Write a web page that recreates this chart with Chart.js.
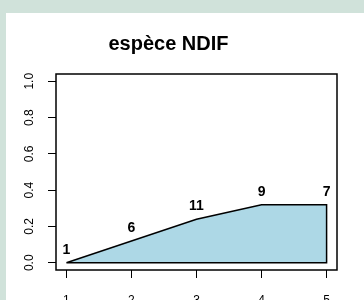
<!DOCTYPE html>
<html>
<head>
<meta charset="utf-8">
<script src="https://cdn.jsdelivr.net/npm/chart.js@4/dist/chart.umd.min.js"></script>
<style>
  html, body { margin: 0; padding: 0; background: #d0e2da; }
  #wrap { position: absolute; left: 0; top: 0; width: 364px; height: 300px; }
</style>
</head>
<body>
<div id="wrap"><canvas id="c" width="364" height="300"></canvas></div>
<script>
// ---- data ----
const titleText = "espèce NDIF";
const classes = [1, 2, 3, 4, 5];
const proportions = [0.0, 0.12, 0.24, 0.32, 0.32];
const counts = [1, 6, 11, 9, 7];
const yTicks = [0.0, 0.2, 0.4, 0.6, 0.8, 1.0];
const xTicks = [1, 2, 3, 4, 5];

// series points, and the closed outline built from them
const curve = classes.map((x, i) => ({ x: x, y: proportions[i] }));
const outline = curve.concat([
  { x: classes[classes.length - 1], y: 0 },
  { x: classes[0], y: 0 }
]);

const bgPlugin = {
  id: 'bg',
  beforeDraw(chart) {
    const ctx = chart.ctx;
    ctx.save();
    ctx.fillStyle = '#d0e2da';
    ctx.fillRect(0, 0, chart.width, chart.height);
    ctx.fillStyle = '#ffffff';
    ctx.fillRect(6, 13, chart.width - 6, chart.height - 13);
    ctx.restore();
  }
};

const boxAndLabels = {
  id: 'boxLabels',
  afterDatasetsDraw(chart) {
    const ctx = chart.ctx;
    const a = chart.chartArea;
    const xs = chart.scales.x, ys = chart.scales.y;
    ctx.save();
    ctx.strokeStyle = '#000';
    ctx.lineWidth = 1.5;
    ctx.strokeRect(a.left, a.top, a.right - a.left, a.bottom - a.top);
    ctx.fillStyle = '#000';
    ctx.font = 'bold 14px "Liberation Sans", Arial, sans-serif';
    ctx.textAlign = 'center';
    ctx.textBaseline = 'alphabetic';
    classes.forEach((c, i) => {
      const px = xs.getPixelForValue(c);
      const py = ys.getPixelForValue(proportions[i]);
      ctx.fillText(String(counts[i]), px, py - 9);
    });
    ctx.restore();
  }
};

new Chart(document.getElementById('c'), {
  type: 'scatter',
  data: {
    datasets: [
      {
        data: outline,
        showLine: true,
        fill: false,
        borderColor: '#000',
        borderWidth: 1.5,
        pointRadius: 0,
        tension: 0
      },
      {
        data: curve,
        showLine: true,
        fill: 'origin',
        backgroundColor: '#add8e6',
        borderColor: 'rgba(0,0,0,0)',
        borderWidth: 0,
        pointRadius: 0,
        tension: 0
      }
    ]
  },
  options: {
    responsive: false,
    animation: false,
    layout: { padding: { left: 0, right: 27, top: 0, bottom: 0 } },
    plugins: {
      legend: { display: false },
      tooltip: { enabled: false },
      filler: { propagate: false },
      title: {
        display: true,
        text: titleText,
        color: '#000',
        font: { family: '"Liberation Sans", Arial, sans-serif', size: 20, weight: 'bold', lineHeight: 1.2 },
        padding: { top: 32.5, bottom: 17.5 }
      }
    },
    scales: {
      x: {
        type: 'linear',
        min: 0.84, max: 5.16,
        afterBuildTicks(s) { s.ticks = xTicks.map(v => ({ value: v })); },
        afterFit(s) { s.height = 30; },
        grid: { display: true, drawOnChartArea: false, drawTicks: true, tickLength: 8, color: '#000', lineWidth: 1 },
        border: { display: false },
        ticks: {
          color: '#000', padding: 15, maxRotation: 0, minRotation: 0,
          font: { family: '"Liberation Sans", Arial, sans-serif', size: 12 },
          callback: v => String(v)
        }
      },
      y: {
        type: 'linear',
        min: -0.04, max: 1.04,
        afterBuildTicks(s) { s.ticks = yTicks.map(v => ({ value: v })); },
        afterFit(s) { s.width = 56; },
        grid: { display: true, drawOnChartArea: false, drawTicks: true, tickLength: 8, color: '#000', lineWidth: 1 },
        border: { display: false },
        ticks: {
          color: '#000', padding: 9.6, minRotation: 90, maxRotation: 90, crossAlign: 'center',
          font: { family: '"Liberation Sans", Arial, sans-serif', size: 12 },
          callback: v => v.toFixed(1)
        }
      }
    }
  },
  plugins: [bgPlugin, boxAndLabels]
});
</script>
</body>
</html>
